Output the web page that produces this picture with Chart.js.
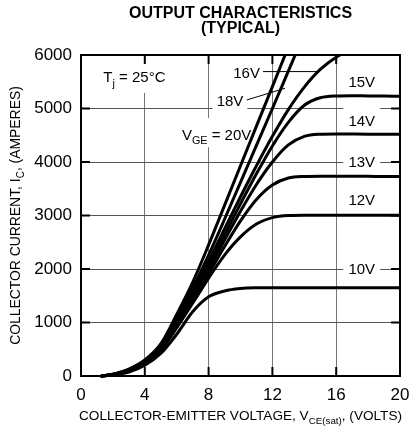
<!DOCTYPE html>
<html><head><meta charset="utf-8">
<script src="https://cdn.jsdelivr.net/npm/chart.js@4.4.0/dist/chart.umd.min.js"></script>
<style>html,body{margin:0;padding:0;background:#fff;overflow:hidden}canvas{display:block}</style>
</head><body>
<canvas id="c" width="411" height="430"></canvas>
<script>
// ---- data ----
const vce  = [1.3, 2, 3, 4, 5, 6, 7, 8, 9, 10, 11, 12, 13, 14, 15, 16, 17, 18, 19, 20];
const ic20 = [0, 35, 130, 300, 600, 1150, 1750, 2450, 3190, 3930, 4670, 5410, 6150, null, null, null, null, null, null, null];
const ic18 = [0, 32, 120, 285, 580, 1080, 1640, 2260, 2930, 3620, 4310, 5000, 5700, 6400, null, null, null, null, null, null];
const ic16 = [0, 30, 115, 275, 560, 1030, 1560, 2140, 2750, 3350, 3930, 4480, 4980, 5400, 5730, 5960, 6110, null, null, null];
const ic15 = [0, 28, 110, 265, 540, 1000, 1500, 2060, 2640, 3220, 3780, 4300, 4740, 5060, 5200, 5235, 5240, 5235, 5232, 5230];
const ic14 = [0, 26, 105, 255, 520, 970, 1460, 1990, 2540, 3080, 3580, 4000, 4320, 4480, 4520, 4525, 4522, 4520, 4520, 4518];
const ic13 = [0, 24, 100, 245, 500, 940, 1410, 1910, 2420, 2900, 3300, 3570, 3700, 3730, 3735, 3735, 3733, 3732, 3730, 3730];
const ic12 = [0, 22, 90, 230, 480, 900, 1360, 1830, 2260, 2600, 2840, 2960, 3000, 3005, 3005, 3005, 3005, 3005, 3005, 3005];
const ic10 = [0, 18, 75, 200, 420, 780, 1200, 1480, 1590, 1635, 1648, 1650, 1650, 1650, 1650, 1650, 1650, 1650, 1650, 1650];
const seriesNames = ['20V', '18V', '16V', '15V', '14V', '13V', '12V', '10V'];
const seriesValues = [ic20, ic18, ic16, ic15, ic14, ic13, ic12, ic10];
const xTicks = [0, 4, 8, 12, 16, 20];
const yTicks = [0, 1000, 2000, 3000, 4000, 5000, 6000];
const titleLines = ['OUTPUT CHARACTERISTICS', '(TYPICAL)'];

// ---- rendering ----
const F = '"Liberation Sans", Arial, Helvetica, sans-serif';
const SUB = 0.72;
function richWidth(ctx, segs, size, bold) {
  let w = 0;
  for (const s of segs) { ctx.font = (bold ? 'bold ' : '') + (s.sub ? size * SUB : size) + 'px ' + F; w += ctx.measureText(s.t).width; }
  return w;
}
function drawRich(ctx, x, y, segs, size, align, bold) {
  const w = richWidth(ctx, segs, size, bold);
  let cx = align === 'center' ? x - w / 2 : (align === 'right' ? x - w : x);
  ctx.textAlign = 'left'; ctx.textBaseline = 'alphabetic'; ctx.fillStyle = '#000';
  for (const s of segs) {
    const fs = s.sub ? size * SUB : size;
    ctx.font = (bold ? 'bold ' : '') + fs + 'px ' + F;
    ctx.fillText(s.t, cx, y + (s.sub ? size * 0.3 : 0));
    cx += ctx.measureText(s.t).width;
  }
  return w;
}

// annotation texts placed in data units (V, A)
const notes = [
  {segs: [{t: 'T'}, {t: 'j', sub: 1}, {t: ' = 25°C'}], v: 3.35, i: 5590, box: [5, 14, 5, 16]},
  {segs: [{t: 'V'}, {t: 'GE', sub: 1}, {t: ' = 20V'}], v: 8.5, i: 4520, box: [4, 16, 3, 13]},
  {segs: [{t: '18V'}], v: 9.34, i: 5140, box: [4, 9, 4, 11]},
  {segs: [{t: '16V'}], v: 10.38, i: 5673, box: null},
  {segs: [{t: '15V'}], v: 17.6, i: 5510, box: null},
  {segs: [{t: '14V'}], v: 17.6, i: 4765, box: [5, 17, 5, 10]},
  {segs: [{t: '13V'}], v: 17.6, i: 4000, box: [5, 12, 5, 11]},
  {segs: [{t: '12V'}], v: 17.6, i: 3290, box: null},
  {segs: [{t: '10V'}], v: 17.6, i: 2000, box: [5, 11, 5, 11]}
];
const leaders = [
  {from: [11.41, 5690], to: [14.86, 5690]},
  {from: [10.39, 5159], to: [12.79, 5378]}
];
const NOTE_SIZE = 15;

const decor = {
  id: 'decor',
  beforeDatasetsDraw(chart) {
    const ctx = chart.ctx, xs = chart.scales.x, ys = chart.scales.y;
    ctx.save();
    for (const n of notes) {
      if (!n.box) continue;
      const w = richWidth(ctx, n.segs, NOTE_SIZE);
      const cx = xs.getPixelForValue(n.v), cy = ys.getPixelForValue(n.i);
      ctx.fillStyle = '#fff';
      ctx.fillRect(cx - w / 2 - n.box[0], cy - n.box[1], w + n.box[0] + n.box[2], n.box[1] + n.box[3]);
    }
    ctx.restore();
  },
  afterDatasetsDraw(chart) {
    const ctx = chart.ctx, xs = chart.scales.x, ys = chart.scales.y, a = chart.chartArea;
    ctx.save();
    ctx.strokeStyle = '#000'; ctx.lineWidth = 1;
    for (const l of leaders) {
      ctx.beginPath();
      ctx.moveTo(xs.getPixelForValue(l.from[0]), ys.getPixelForValue(l.from[1]));
      ctx.lineTo(xs.getPixelForValue(l.to[0]), ys.getPixelForValue(l.to[1]));
      ctx.stroke();
    }
    for (const n of notes) {
      const cx = xs.getPixelForValue(n.v), cy = ys.getPixelForValue(n.i);
      drawRich(ctx, cx, cy + NOTE_SIZE * 0.716 / 2, n.segs, NOTE_SIZE, 'center');
    }
    ctx.strokeStyle = '#000'; ctx.lineWidth = 2;
    const TL = 9;
    for (const v of xTicks.slice(1, -1)) {
      const px = xs.getPixelForValue(v);
      ctx.beginPath(); ctx.moveTo(px, a.bottom); ctx.lineTo(px, a.bottom - TL);
      ctx.moveTo(px, a.top); ctx.lineTo(px, a.top + TL); ctx.stroke();
    }
    for (const v of yTicks.slice(1, -1)) {
      const py = ys.getPixelForValue(v);
      ctx.beginPath(); ctx.moveTo(a.left, py); ctx.lineTo(a.left + TL, py);
      ctx.moveTo(a.right, py); ctx.lineTo(a.right - TL, py); ctx.stroke();
    }
    ctx.lineWidth = 2;
    ctx.strokeRect(a.left, a.top, a.right - a.left, a.bottom - a.top);
    ctx.fillStyle = '#000'; ctx.textAlign = 'center'; ctx.textBaseline = 'alphabetic';
    ctx.font = 'bold 16px ' + F;
    const mid = (a.left + a.right) / 2;
    ctx.fillText(titleLines[0], mid, 18);
    ctx.fillText(titleLines[1], mid, 32.5);
    drawRich(ctx, mid, 420, [{t: 'COLLECTOR-EMITTER VOLTAGE, V'}, {t: 'CE(sat)', sub: 1}, {t: ', (VOLTS)'}], 13.6, 'center');
    ctx.translate(20, (a.top + a.bottom) / 2);
    ctx.rotate(-Math.PI / 2);
    drawRich(ctx, 0, 0, [{t: 'COLLECTOR CURRENT, I'}, {t: 'C', sub: 1}, {t: ', (AMPERES)'}], 13.9, 'center');
    ctx.restore();
  }
};

const datasets = seriesNames.map((name, k) => ({
  label: 'VGE = ' + name,
  data: vce.map((v, j) => ({x: v, y: seriesValues[k][j]})),
  borderColor: '#000',
  borderWidth: 3,
  pointRadius: 0,
  fill: false,
  cubicInterpolationMode: 'monotone',
  borderCapStyle: 'round',
  borderJoinStyle: 'round',
  spanGaps: false,
  clip: {left: 2, top: 0, right: 0, bottom: 2}
}));

new Chart(document.getElementById('c'), {
  type: 'line',
  data: {datasets},
  options: {
    responsive: false,
    animation: false,
    devicePixelRatio: 1,
    layout: {padding: {top: 55, right: 11, left: 0, bottom: 0}},
    plugins: {legend: {display: false}, tooltip: {enabled: false}, title: {display: false}},
    scales: {
      x: {
        type: 'linear', min: 0, max: 20,
        afterBuildTicks(s) { s.ticks = xTicks.map(v => ({value: v})); },
        afterFit(s) { s.height = 54; s.paddingLeft = 0; s.paddingRight = 0; },
        ticks: {color: '#000', font: {family: F, size: 17}, padding: 9, maxRotation: 0, callback: v => String(v)},
        grid: {color: '#777', lineWidth: 1, drawTicks: false},
        border: {display: false}
      },
      y: {
        type: 'linear', min: 0, max: 6000,
        afterBuildTicks(s) { s.ticks = yTicks.map(v => ({value: v})); },
        afterFit(s) { s.width = 81; s.paddingTop = 0; s.paddingBottom = 0; },
        ticks: {color: '#000', font: {family: F, size: 17}, padding: 9, callback: v => String(v)},
        grid: {color: '#555', lineWidth: 1, drawTicks: false},
        border: {display: false}
      }
    }
  },
  plugins: [decor]
});
</script>
</body></html>
